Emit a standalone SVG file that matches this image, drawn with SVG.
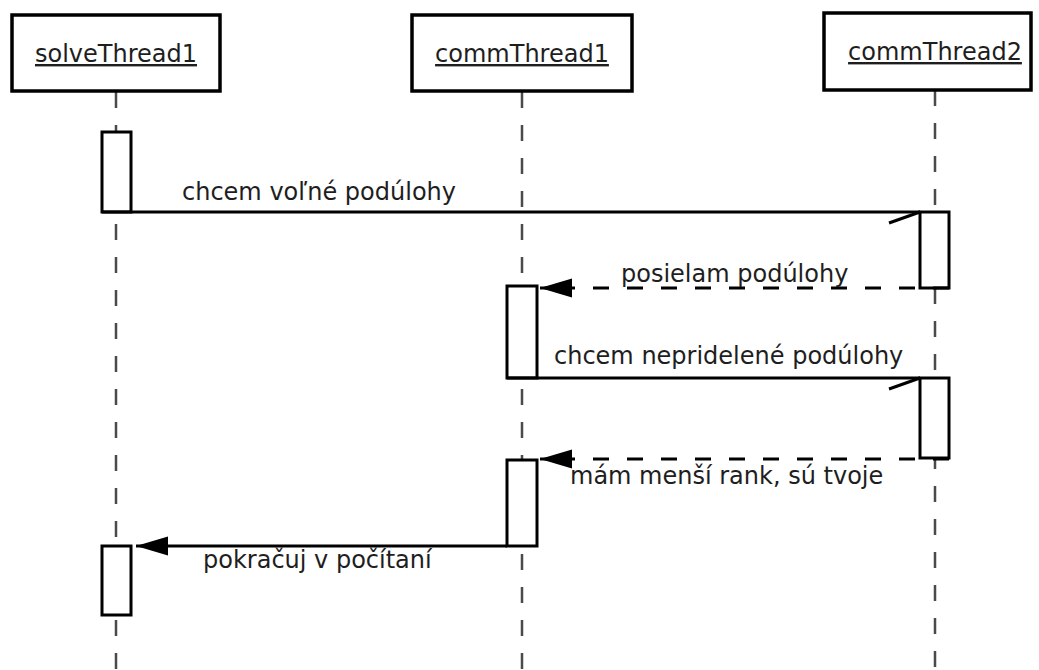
<svg xmlns="http://www.w3.org/2000/svg" width="1039" height="670" viewBox="0 0 1039 670">
  <style>
    .head { fill: #ffffff; stroke: #000000; stroke-width: 3.5; }
    .act { fill: #ffffff; stroke: #000000; stroke-width: 3; }
    .life { stroke: #4a4a4a; stroke-width: 2.5; stroke-dasharray: 16 17; fill: none; }
    .msg { stroke: #000000; stroke-width: 3; fill: none; }
    .ret { stroke: #000000; stroke-width: 3; fill: none; stroke-dasharray: 16 18; }
    .title { font-family: "DejaVu Sans", sans-serif; font-size: 24px; fill: #1e1e1e; text-anchor: middle; text-decoration: underline; }
    .label { font-family: "DejaVu Sans", sans-serif; font-size: 24px; fill: #1e1e1e; }
  </style>
  <defs>
    <marker id="filled" markerWidth="34" markerHeight="20" refX="32" refY="9.5" orient="auto" markerUnits="userSpaceOnUse">
      <path d="M0,0 L32,9.5 L0,19 Z" fill="#000000"/>
    </marker>
    <marker id="half" markerWidth="36" markerHeight="16" refX="33" refY="2" orient="auto" markerUnits="userSpaceOnUse">
      <path d="M2,13 L33,2" stroke="#000000" stroke-width="3" fill="none"/>
    </marker>
  </defs>

  <rect width="1039" height="670" fill="#ffffff"/>

  <!-- lifelines -->
  <g id="lifelines">
    <line class="life" x1="116" y1="92" x2="116" y2="670"/>
    <line class="life" x1="522" y1="92" x2="522" y2="670"/>
    <line class="life" x1="935" y1="90" x2="935" y2="670"/>
  </g>

  <!-- participants -->
  <g id="solveThread1">
    <rect class="head" x="12" y="15" width="208" height="76"/>
    <text class="title" x="116" y="62">solveThread1</text>
    <rect class="act" x="102" y="132" width="29" height="80"/>
    <rect class="act" x="102" y="546" width="29" height="69"/>
  </g>

  <g id="commThread1">
    <rect class="head" x="412" y="15" width="220" height="76"/>
    <text class="title" x="522" y="62">commThread1</text>
    <rect class="act" x="507" y="286" width="30" height="92"/>
    <rect class="act" x="507" y="460" width="30" height="86"/>
  </g>

  <g id="commThread2">
    <rect class="head" x="824" y="13" width="207" height="77"/>
    <text class="title" x="935" y="60">commThread2</text>
    <rect class="act" x="920" y="212" width="29" height="76"/>
    <rect class="act" x="920" y="378" width="29" height="80"/>
  </g>

  <!-- messages -->
  <g id="connectors">
    <path class="msg" d="M102,212 L920,212" marker-end="url(#half)"/>
    <path class="ret" d="M949,288 L572,288"/>
    <path d="M572,288 L540,288" stroke="#000000" stroke-width="3" marker-end="url(#filled)"/>
    <path class="msg" d="M507,378 L920,378" marker-end="url(#half)"/>
    <path class="ret" d="M949,459 L572,459"/>
    <path d="M572,459 L540,459" stroke="#000000" stroke-width="3" marker-end="url(#filled)"/>
    <path class="msg" d="M507,546 L136,546" marker-end="url(#filled)"/>
  </g>

  <g id="labels">
    <text class="label" x="182" y="200">chcem voľné podúlohy</text>
    <text class="label" x="621" y="282">posielam podúlohy</text>
    <text class="label" x="554" y="364">chcem nepridelené podúlohy</text>
    <text class="label" x="570" y="484">mám menší rank, sú tvoje</text>
    <text class="label" x="203" y="568">pokračuj v počítaní</text>
  </g>
</svg>
